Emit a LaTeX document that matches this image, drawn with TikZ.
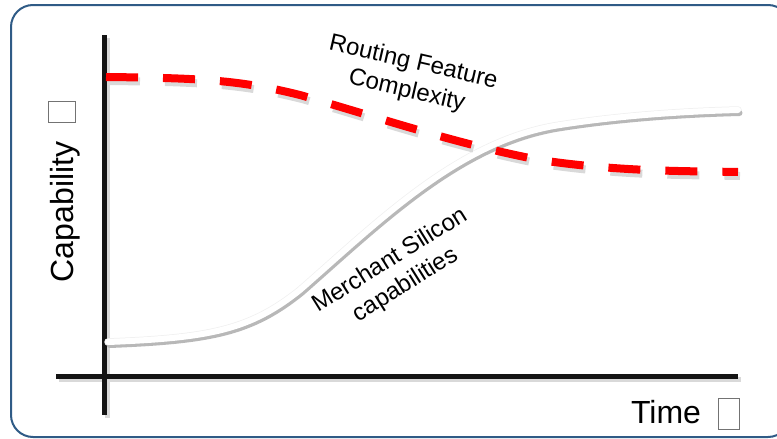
\documentclass[tikz,border=0pt]{standalone}
\usepackage{fontspec}
\setmainfont{Liberation Sans}
\usetikzlibrary{calc}
\definecolor{frameblue}{HTML}{2F5B86}
\definecolor{routered}{HTML}{FF0000}
\tikzset{
  axisline/.style={line width=5pt, draw=black!92},
  shadowline/.style={line width=6pt, draw=black!28, line cap=round},
  rimline/.style={line width=7.5pt, draw=black!6, line cap=round},
  whitecurve/.style={line width=6pt, draw=white, line cap=round},
  reddash/.style={line width=8pt, draw=routered, dash pattern=on 32pt off 25pt},
  redshadow/.style={line width=8pt, draw=black!15, dash pattern=on 32pt off 25pt},
  label/.style={font=\fontsize{24}{29}\selectfont, align=center, inner sep=0pt},
  axislabel/.style={font=\fontsize{32}{36}\selectfont, inner sep=0pt},
  glyphbox/.style={draw=black!55, line width=0.8pt, inner sep=0pt}
}
\begin{document}
\begin{tikzpicture}[x=1pt, y=-1pt]
  \useasboundingbox (0,0) rectangle (777,439);
  % frame
  \draw[frameblue, line width=2pt, rounded corners=22pt] (11,5) rectangle (790,437);

  % axes
  \coordinate (ytop) at (104,35);
  \coordinate (ybot) at (104,415);
  \coordinate (xleft) at (56,376);
  \coordinate (xright) at (738,376);
  \draw[line width=5pt, black!15] ($(ytop)+(3,3)$) -- ($(ybot)+(3,3)$);
  \draw[line width=5pt, black!15] ($(xleft)+(3,3)$) -- ($(xright)+(3,3)$);
  \draw[axisline] (ytop) -- (ybot);
  \draw[axisline] (xleft) -- (xright);

  % merchant silicon curve (white with soft shadow)
  \def\siliconpath{(108,342) .. controls (210,338) and (250,330) .. (300,290)
    .. controls (380,220) and (460,140) .. (560,125)
    .. controls (630,114) and (700,111) .. (738,110)}
  \draw[rimline] \siliconpath;
  \draw[shadowline, shift={(1.5,3)}] \siliconpath;
  \draw[whitecurve] \siliconpath;

  % routing feature complexity curve (red dashed)
  \def\routingpath{(106,77) .. controls (200,78) and (240,80) .. (300,95)
    .. controls (380,118) and (460,145) .. (540,160)
    .. controls (620,172) and (690,171) .. (738,172)}
  \draw[redshadow, shift={(2,4)}] \routingpath;
  \draw[reddash] \routingpath;

  % labels
  \node[label, rotate=-13] (routing) at (410,77) {Routing Feature\\Complexity};
  \node[label, rotate=32] (merchant) at (398,273) {Merchant Silicon\\capabilities};
  \node[axislabel, rotate=90] (cap) at (65,212) {Capability};
  \node[glyphbox, minimum width=27pt, minimum height=21pt] (capbox) at (61.5,111.5) {};
  \node[axislabel] (time) at (666,412) {Time};
  \node[glyphbox, minimum width=21pt, minimum height=31pt] (timebox) at (729,414) {};
\end{tikzpicture}
\end{document}
